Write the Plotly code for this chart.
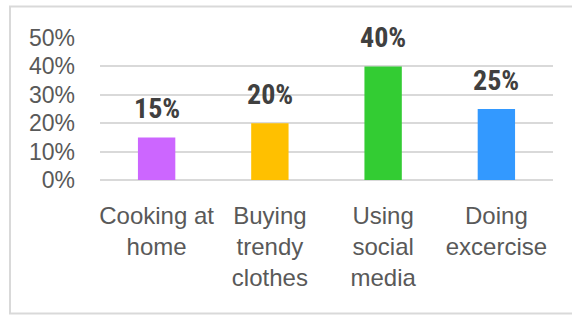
import plotly.graph_objects as go

categories = ["Cooking at<br>home", "Buying<br>trendy<br>clothes", "Using<br>social<br>media", "Doing<br>excercise"]
values = [0.15, 0.20, 0.40, 0.25]
colors = ["#CC66FF", "#FFC000", "#33CC33", "#3399FF"]
tick_vals = [0, 0.1, 0.2, 0.3, 0.4, 0.5]

NARROW = "Liberation Sans Narrow, Arial Narrow, Roboto Condensed, sans-serif"
REG = "Liberation Sans, Arial, sans-serif"

fig = go.Figure()
fig.add_trace(go.Bar(
    x=categories, y=values, marker=dict(color=colors, line=dict(width=0)),
    width=0.33, hoverinfo="skip",
))

for c, v in zip(categories, values):
    fig.add_annotation(
        x=c, y=v, text=f"<b>{round(v*100)}%</b>", showarrow=False,
        yanchor="bottom", yshift=10,
        font=dict(family=NARROW, size=28, color="#404040"),
    )

fig.add_shape(
    type="rect", xref="paper", yref="paper",
    x0=(10 - 100) / 453, x1=(600 - 100) / 453,
    y0=(180 - 314) / 142.5, y1=(180 - 6) / 142.5,
    line=dict(color="#D9D9D9", width=2), fillcolor="rgba(0,0,0,0)", layer="below",
)

fig.update_layout(
    width=572, height=316,
    margin=dict(l=100, r=19, t=37.5, b=136, autoexpand=False),
    plot_bgcolor="white", paper_bgcolor="white",
    showlegend=False,
    font=dict(family=REG, color="#595959", size=24),
    bargap=0.67,
)
fig.update_yaxes(
    automargin=False,
    range=[0, 0.5], tickvals=tick_vals, tickformat=".0%",
    showgrid=True, gridcolor="#D9D9D9", gridwidth=2,
    zeroline=True, zerolinecolor="#D9D9D9", zerolinewidth=2,
    showline=False, ticks="", ticklabelstandoff=24,
    tickfont=dict(family=REG, size=23, color="#595959"),
)
fig.update_xaxes(
    automargin=False,
    showline=False, ticks="", ticklabelstandoff=19,
    tickfont=dict(family=REG, size=24, color="#595959"), tickangle=0,
)

fig.write_html(
    "out.html",
    config={"displayModeBar": False},
    post_script="document.body.style.margin='0';document.body.style.overflow='hidden';",
)
